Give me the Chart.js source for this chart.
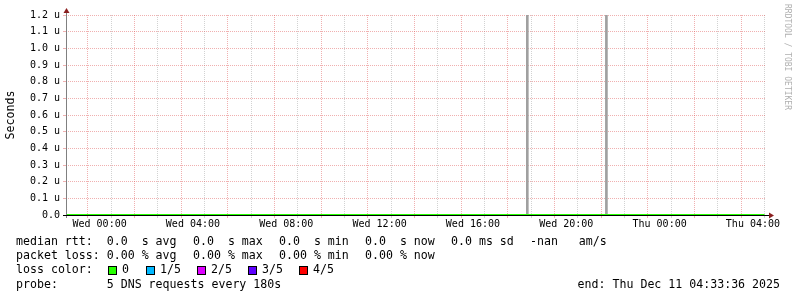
<!DOCTYPE html>
<html>
<head>
<meta charset="utf-8">
<script src="https://cdn.jsdelivr.net/npm/chart.js@4/dist/chart.umd.min.js"></script>
<style>
    body { margin: 0; background: #fff; }
    #wrap { position: relative; width: 797px; height: 297px; }
    .leg { position: absolute; left: 16px; font: 11.6px "DejaVu Sans Mono", monospace; color: #000; white-space: pre; line-height: 14px; }
    .box { position: absolute; width: 7px; height: 7px; border: 1px solid #000; }
</style>
</head>
<body>
<div id="wrap">
    <canvas id="chart" width="797" height="297"></canvas>
</div>
<script>
// hours counted from Wed 00:00
const rangeStart = -1.44;   // Tue 22:33:36
const rangeEnd = 28.56;     // Thu 04:33:36
const gridHours = [-1, 0, 1, 2, 3, 4, 5, 6, 7, 8, 9, 10, 11, 12, 13, 14, 15, 16, 17, 18, 19, 20, 21, 22, 23, 24, 25, 26, 27, 28];
const labelHours = [0, 4, 8, 12, 16, 20, 24, 28];
const labelNames = ['Wed 00:00', 'Wed 04:00', 'Wed 08:00', 'Wed 12:00', 'Wed 16:00', 'Wed 20:00', 'Thu 00:00', 'Thu 04:00'];

// y in microseconds
const yTicks = [0, 0.1, 0.2, 0.3, 0.4, 0.5, 0.6, 0.7, 0.8, 0.9, 1.0, 1.1, 1.2];
const yLabels = ['0.0', '0.1 u', '0.2 u', '0.3 u', '0.4 u', '0.5 u', '0.6 u', '0.7 u', '0.8 u', '0.9 u', '1.0 u', '1.1 u', '1.2 u'];

const rttHours = [-1.44, 0, 4, 8, 12, 16, 20, 24, 28, 28.5];
const rttValues = [0, 0, 0, 0, 0, 0, 0, 0, 0, 0];

// unknown samples (grey bars over the full height)
const gapHours = [18.33, 21.72];
const gapValues = [1.2, 1.2];

const lossNames = ['0', '1/5', '2/5', '3/5', '4/5'];
const lossColors = ['#26ff00', '#00b8ff', '#dd00ff', '#5e00ff', '#ff0000'];

const rttLegend = ['median rtt:  0.0  s avg', '0.0  s max', '0.0  s min', '0.0  s now', '0.0 ms sd', '-nan   am/s'];
const lossLegend = ['packet loss: 0.00 % avg', '0.00 % max', '0.00 % min', '0.00 % now'];
const probeText = 'probe:       5 DNS requests every 180s';
const endText = 'end: Thu Dec 11 04:33:36 2025';

const majorGrid = 'rgba(222, 80, 80, 0.45)';
const minorGrid = 'rgba(143, 143, 143, 0.4)';
const mono = '"DejaVu Sans Mono", monospace';

const rrdFrame = {
    id: 'rrdFrame',
    afterDatasetsDraw(chart) {
        const { ctx, chartArea: a } = chart;
        const x0 = a.left + 0.5;
        const y0 = a.bottom + 0.5;
        ctx.save();
        ctx.lineWidth = 1;
        ctx.strokeStyle = '#808080';
        ctx.beginPath();
        ctx.moveTo(x0, a.bottom + 3);
        ctx.lineTo(x0, a.top - 2);
        ctx.stroke();
        ctx.strokeStyle = '#000';
        ctx.beginPath();
        ctx.moveTo(a.left - 3, y0);
        ctx.lineTo(a.right + 3, y0);
        ctx.stroke();

        ctx.fillStyle = '#8b1f1f';
        ctx.beginPath();
        ctx.moveTo(x0 - 3, a.top - 2);
        ctx.lineTo(x0 + 3, a.top - 2);
        ctx.lineTo(x0, a.top - 7);
        ctx.closePath();
        ctx.fill();
        ctx.beginPath();
        ctx.moveTo(a.right + 3, y0 - 3);
        ctx.lineTo(a.right + 3, y0 + 3);
        ctx.lineTo(a.right + 8, y0);
        ctx.closePath();
        ctx.fill();

        ctx.translate(787, 4);
        ctx.rotate(Math.PI / 2);
        ctx.font = '8px ' + mono;
        ctx.fillStyle = '#b0b0b0';
        ctx.textBaseline = 'middle';
        ctx.fillText('RRDTOOL / TOBI OETIKER', 0, 0);
        ctx.restore();
    }
};

const ctx = document.getElementById('chart').getContext('2d');
new Chart(ctx, {
    type: 'line',
    data: {
        datasets: [{
            label: 'median rtt',
            data: rttHours.map((h, i) => ({ x: h, y: rttValues[i] })),
            borderColor: '#26ff00',
            borderWidth: 2,
            pointRadius: 0,
            tension: 0,
            clip: false
        }, {
            type: 'bar',
            label: 'unknown',
            data: gapHours.map((h, i) => ({ x: h, y: gapValues[i] })),
            backgroundColor: '#a0a0a0',
            borderWidth: 0,
            barThickness: 2
        }]
    },
    options: {
        responsive: false,
        animation: false,
        layout: { padding: { top: 15, right: 31, bottom: 0, left: 0 } },
        plugins: {
            legend: { display: false },
            tooltip: { enabled: false }
        },
        scales: {
            x: {
                type: 'linear',
                min: rangeStart,
                max: rangeEnd,
                offset: false,
                afterBuildTicks: scale => { scale.ticks = gridHours.map(v => ({ value: v })); },
                afterFit: scale => { scale.height = 82; },
                grid: {
                    color: c => (c.tick && c.tick.value % 2 === 0) ? majorGrid : minorGrid,
                    lineWidth: 1,
                    tickLength: 3
                },
                border: { display: false, dash: [1, 1] },
                ticks: {
                    autoSkip: false,
                    maxRotation: 0,
                    padding: 0,
                    color: '#000',
                    font: { family: mono, size: 10 },
                    callback: value => {
                        const i = labelHours.indexOf(value);
                        return i < 0 ? '' : labelNames[i];
                    }
                }
            },
            y: {
                min: 0,
                max: 1.2,
                afterBuildTicks: scale => { scale.ticks = yTicks.map(v => ({ value: v })); },
                afterFit: scale => { scale.width = 66; },
                grid: { color: majorGrid, lineWidth: 1, tickLength: 3 },
                border: { display: false, dash: [1, 1] },
                title: {
                    display: true,
                    text: 'Seconds',
                    color: '#000',
                    font: { family: mono, size: 11.6 },
                    padding: { top: 4, bottom: 0 }
                },
                ticks: {
                    padding: 3,
                    color: '#000',
                    font: { family: mono, size: 10 },
                    callback: (value, index) => yLabels[index]
                }
            }
        }
    },
    plugins: [rrdFrame]
});

// legend block under the graph, rrdtool style: each item placed after the previous one plus a gap
const wrap = document.getElementById('wrap');
const charW = 7;
const itemGap = 16;
const lineTops = [234, 248.2, 262.4, 276.6];

function addText(text, left, top) {
    const d = document.createElement('div');
    d.className = 'leg';
    d.style.left = left + 'px';
    d.style.top = top + 'px';
    d.textContent = text;
    wrap.appendChild(d);
    return d;
}

function addRow(items, top) {
    let x = 16;
    items.forEach(text => {
        addText(text, x, top);
        x += text.length * charW + itemGap;
    });
}

addRow(rttLegend, lineTops[0]);
addRow(lossLegend, lineTops[1]);
addText('loss color:', 16, lineTops[2]);
addText(probeText, 16, lineTops[3]);
const endDiv = addText(endText, 0, lineTops[3]);
endDiv.style.left = 'auto';
endDiv.style.right = '17px';

const boxLefts = [108, 146, 197, 248, 299];
lossNames.forEach((name, i) => {
    const b = document.createElement('div');
    b.className = 'box';
    b.style.left = boxLefts[i] + 'px';
    b.style.top = '266px';
    b.style.background = lossColors[i];
    wrap.appendChild(b);
    addText(name, boxLefts[i] + 14, lineTops[2]);
});
</script>
</body>
</html>
